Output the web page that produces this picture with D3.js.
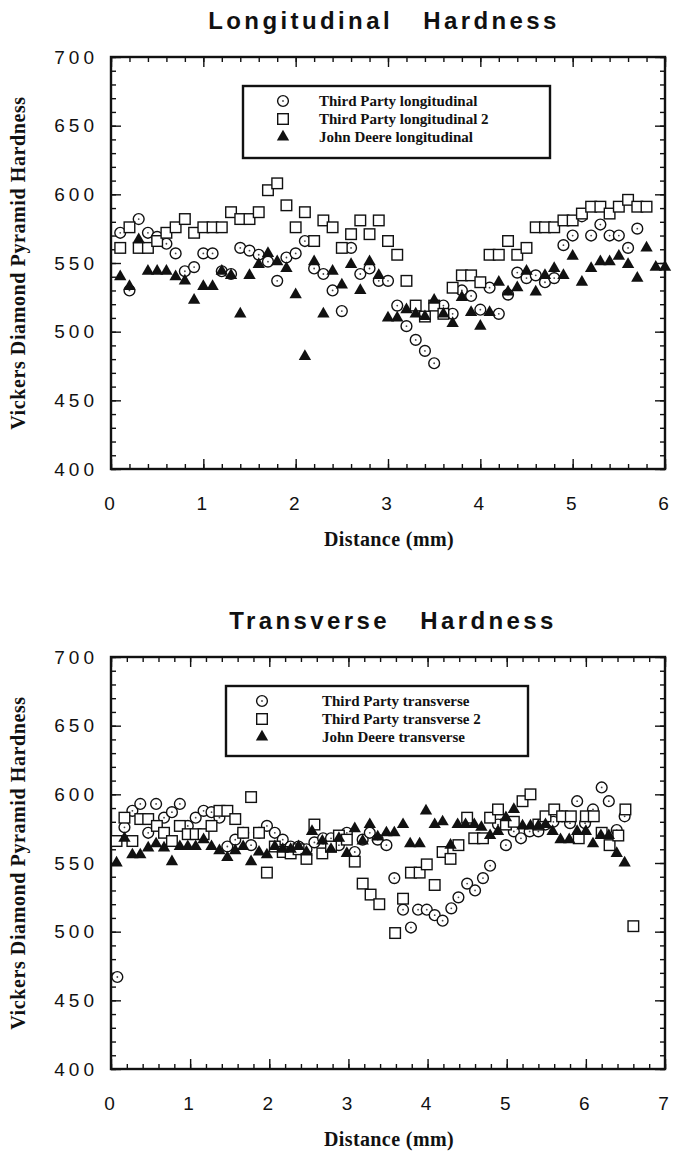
<!DOCTYPE html>
<html>
<head>
<meta charset="utf-8">
<script src="https://cdn.jsdelivr.net/npm/d3@7"></script>
<style>
  body { margin: 0; background: #fff; }
  svg { display: block; }
  .tick text { font-family: "Liberation Sans", Arial, sans-serif; font-size: 19px; letter-spacing: 4px; fill: #111; }
  .tick line { stroke: #111; stroke-width: 1.4; }
</style>
</head>
<body>
<svg width="673" height="1152"></svg>
<script>
// values, [distance mm, hardness]
var tpLong = [[0.1,572],[0.2,530],[0.3,582],[0.4,572],[0.5,569],[0.6,564],[0.7,557],[0.8,544],[0.9,547],[1.0,557],
  [1.1,557],[1.2,544],[1.3,542],[1.4,561],[1.5,559],[1.6,556],[1.7,551],[1.8,537],[1.9,554],[2.0,557],
  [2.1,566],[2.2,546],[2.3,542],[2.4,530],[2.5,515],[2.6,561],[2.7,542],[2.8,546],[2.9,537],[3.0,537],
  [3.1,519],[3.2,504],[3.3,494],[3.4,486],[3.5,477],[3.6,519],[3.7,513],[3.8,530],[3.9,526],[4.0,516],
  [4.1,532],[4.2,513],[4.3,527],[4.4,543],[4.5,539],[4.6,541],[4.7,536],[4.8,539],[4.9,563],[5.0,570],
  [5.1,584],[5.2,570],[5.3,578],[5.4,570],[5.5,570],[5.6,561],[5.7,575]];

var tpLong2 = [[0.1,561],[0.2,576],[0.3,561],[0.4,561],[0.5,566],[0.6,572],[0.7,576],[0.8,582],[0.9,572],[1.0,576],
  [1.1,576],[1.2,576],[1.3,587],[1.4,582],[1.5,582],[1.6,587],[1.7,603],[1.8,608],[1.9,592],[2.0,576],
  [2.1,587],[2.2,566],[2.3,581],[2.4,576],[2.5,561],[2.6,571],[2.7,581],[2.8,571],[2.9,581],[3.0,566],
  [3.1,556],[3.2,537],[3.3,519],[3.4,511],[3.5,519],[3.6,513],[3.7,532],[3.8,541],[3.9,541],[4.0,536],
  [4.1,556],[4.2,556],[4.3,566],[4.4,556],[4.5,561],[4.6,576],[4.7,576],[4.8,576],[4.9,581],[5.0,581],
  [5.1,586],[5.2,591],[5.3,591],[5.4,586],[5.5,591],[5.6,596],[5.7,591],[5.8,591]];

var jdLong = [[0.1,540],[0.2,533],[0.3,567],[0.4,544],[0.5,544],[0.6,544],[0.7,540],[0.8,537],[0.9,523],[1.0,533],
  [1.1,533],[1.2,544],[1.3,541],[1.4,513],[1.5,541],[1.6,549],[1.7,557],[1.8,551],[1.9,546],[2.0,527],
  [2.1,482],[2.2,551],[2.3,513],[2.4,544],[2.5,534],[2.6,549],[2.7,530],[2.8,551],[2.9,541],[3.0,510],
  [3.1,510],[3.2,516],[3.3,513],[3.4,511],[3.5,523],[3.6,513],[3.7,506],[3.8,525],[3.9,514],[4.0,504],
  [4.1,514],[4.2,536],[4.3,529],[4.4,532],[4.5,544],[4.6,529],[4.7,541],[4.8,546],[4.9,541],[5.0,555],
  [5.1,536],[5.2,546],[5.3,551],[5.4,551],[5.5,555],[5.6,549],[5.7,539],[5.8,561],[5.9,547],[6.0,547]];

var tpTrans = [[0.08,467],[0.17,576],[0.27,588],[0.37,593],[0.47,572],[0.57,593],[0.67,583],[0.77,587],[0.87,593],[0.97,577],
  [1.07,583],[1.17,588],[1.27,587],[1.37,583],[1.47,562],[1.57,567],[1.67,572],[1.77,563],[1.87,572],[1.97,577],
  [2.07,572],[2.17,567],[2.27,562],[2.37,562],[2.47,560],[2.57,565],[2.68,568],[2.78,568],[2.88,563],[2.98,572],
  [3.08,558],[3.18,567],[3.27,572],[3.37,567],[3.48,563],[3.58,539],[3.69,516],[3.79,503],[3.88,516],[3.99,516],
  [4.09,512],[4.19,508],[4.30,517],[4.39,525],[4.50,535],[4.60,530],[4.70,539],[4.79,548],[4.89,578],[4.99,563],
  [5.09,573],[5.18,568],[5.29,573],[5.40,573],[5.49,578],[5.59,580],[5.70,584],[5.80,579],[5.89,595],[5.99,579],
  [6.09,589],[6.20,605],[6.29,595],[6.39,574],[6.49,584]];

var tpTrans2 = [[0.07,566],[0.17,583],[0.27,566],[0.37,582],[0.47,582],[0.58,577],[0.67,572],[0.77,566],[0.87,577],[0.97,571],
  [1.07,571],[1.17,571],[1.27,577],[1.37,588],[1.47,588],[1.57,582],[1.67,572],[1.77,598],[1.87,572],[1.97,543],
  [2.07,562],[2.17,558],[2.27,557],[2.37,560],[2.47,553],[2.57,578],[2.67,557],[2.78,562],[2.88,570],[2.98,567],
  [3.08,551],[3.18,535],[3.28,527],[3.39,520],[3.59,499],[3.69,524],[3.79,543],[3.90,543],[3.99,549],[4.09,534],
  [4.19,558],[4.29,553],[4.39,563],[4.50,583],[4.59,568],[4.70,568],[4.79,583],[4.89,589],[4.99,578],[5.09,580],
  [5.20,595],[5.30,600],[5.40,578],[5.49,584],[5.60,589],[5.70,584],[5.81,584],[5.91,568],[6.00,584],[6.10,584],
  [6.20,572],[6.30,563],[6.41,570],[6.50,589],[6.60,504]];

var jdTrans = [[0.07,550],[0.17,568],[0.27,556],[0.37,556],[0.47,561],[0.57,564],[0.67,561],[0.77,551],[0.87,562],[0.97,562],
  [1.07,562],[1.17,567],[1.27,562],[1.37,559],[1.47,554],[1.57,559],[1.67,562],[1.77,551],[1.87,558],[1.97,556],
  [2.07,562],[2.17,560],[2.27,560],[2.37,562],[2.47,558],[2.54,573],[2.67,566],[2.78,560],[2.88,568],[2.98,557],
  [3.08,575],[3.18,566],[3.27,578],[3.37,569],[3.48,572],[3.58,572],[3.69,578],[3.78,564],[3.90,564],[3.98,588],
  [4.09,578],[4.19,580],[4.29,563],[4.38,578],[4.48,578],[4.59,578],[4.68,576],[4.79,570],[4.89,573],[4.99,583],
  [5.09,589],[5.20,577],[5.30,577],[5.40,577],[5.49,578],[5.58,573],[5.68,567],[5.79,567],[5.89,573],[6.00,573],
  [6.09,564],[6.19,570],[6.29,570],[6.39,557],[6.49,550]];

var longXTicks = [0, 1, 2, 3, 4, 5, 6];
var transXTicks = [0, 1, 2, 3, 4, 5, 6, 7];
var yTicks = [400, 450, 500, 550, 600, 650, 700];
var longNames = ["Third Party longitudinal", "Third Party longitudinal 2", "John Deere longitudinal"];
var transNames = ["Third Party transverse", "Third Party transverse 2", "John Deere transverse"];

var svg = d3.select("svg");
var ink = "#111";
var tri = d3.symbol().type(d3.symbolTriangle).size(66);

function marker(sel, kind) {
  if (kind == 0) {
    sel.append("circle").attr("r", 5.4).attr("fill", "#fff").attr("stroke", ink).attr("stroke-width", 1.4);
    sel.append("circle").attr("r", 0.9).attr("fill", "#444");
  } else if (kind == 1) {
    sel.append("rect").attr("x", -5.3).attr("y", -5.3).attr("width", 10.6).attr("height", 10.6)
      .attr("fill", "#fff").attr("stroke", ink).attr("stroke-width", 1.4);
  } else {
    sel.append("path").attr("d", tri).attr("fill", ink);
  }
}

function panel(cfg) {
  var w = cfg.right - cfg.left, h = cfg.bottom - cfg.top;
  var x = d3.scaleLinear().domain([0, d3.max(cfg.xTicks)]).range([0, w]);
  var y = d3.scaleLinear().domain([400, 700]).range([h, 0]);
  var xMinor = d3.range(0, d3.max(cfg.xTicks) + 0.01, 0.2);
  var yMinor = d3.range(400, 701, 10);

  var g = svg.append("g").attr("transform", "translate(" + cfg.left + "," + cfg.top + ")");

  // inward ticks on all four sides
  g.append("g").attr("transform", "translate(0," + h + ")")
    .call(d3.axisBottom(x).tickValues(xMinor).tickSize(-5).tickFormat(""));
  g.append("g").attr("transform", "translate(0," + h + ")")
    .call(d3.axisBottom(x).tickValues(cfg.xTicks).tickSize(-10).tickPadding(28).tickFormat(d3.format("d")));
  g.append("g").call(d3.axisTop(x).tickValues(xMinor).tickSize(-5).tickFormat(""));
  g.append("g").call(d3.axisTop(x).tickValues(cfg.xTicks).tickSize(-10).tickFormat(""));
  g.append("g").call(d3.axisLeft(y).tickValues(yMinor).tickSize(-5).tickFormat(""));
  g.append("g").call(d3.axisLeft(y).tickValues(yTicks).tickSize(-10).tickPadding(13));
  g.append("g").attr("transform", "translate(" + w + ",0)")
    .call(d3.axisRight(y).tickValues(yMinor).tickSize(-5).tickFormat(""));
  g.append("g").attr("transform", "translate(" + w + ",0)")
    .call(d3.axisRight(y).tickValues(yTicks).tickSize(-10).tickFormat(""));
  g.selectAll(".domain").remove();
  g.selectAll(".tick text").attr("fill", ink);

  g.append("rect").attr("width", w).attr("height", h)
    .attr("fill", "none").attr("stroke", ink).attr("stroke-width", 2.4);

  // legend box
  var lg = g.append("g").attr("transform", "translate(" + (cfg.legend[0] - cfg.left) + "," + (cfg.legend[1] - cfg.top) + ")");
  lg.append("rect").attr("width", cfg.legend[2]).attr("height", cfg.legend[3])
    .attr("fill", "#fff").attr("stroke", ink).attr("stroke-width", 2.4);
  cfg.names.forEach(function(n, i) {
    var row = lg.append("g").attr("transform", "translate(0," + (15 + i * 18) + ")");
    marker(row.append("g").attr("transform", "translate(" + cfg.symX + ",0)"), i);
    row.append("text").attr("x", cfg.textX).attr("y", 5)
      .attr("font-family", "'Liberation Serif', 'Times New Roman', serif")
      .attr("font-weight", "bold").attr("font-size", 15).attr("fill", ink)
      .text(n);
  });

  // points: circles, squares, then triangles on top
  cfg.series.forEach(function(s, i) {
    g.append("g").selectAll("g")
      .data(s)
      .enter().append("g")
        .attr("transform", function(d) { return "translate(" + x(d[0]) + "," + y(d[1]) + ")"; })
        .each(function() { marker(d3.select(this), i); });
  });

  svg.append("text")
    .attr("x", cfg.titleX).attr("y", cfg.top - 28)
    .attr("text-anchor", "middle").style("white-space", "pre")
    .attr("font-family", "'Liberation Sans', Arial, sans-serif").attr("font-weight", "bold")
    .attr("font-size", 24).attr("letter-spacing", 3.4).attr("fill", ink)
    .text(cfg.title);

  svg.append("text")
    .attr("x", 389).attr("y", cfg.bottom + 77)
    .attr("text-anchor", "middle")
    .attr("font-family", "'Liberation Serif', 'Times New Roman', serif").attr("font-weight", "bold")
    .attr("font-size", 20).attr("letter-spacing", 0.4).attr("fill", ink)
    .text("Distance (mm)");

  svg.append("text")
    .attr("transform", "translate(25," + (cfg.top + cfg.bottom) / 2 + ") rotate(-90)")
    .attr("text-anchor", "middle")
    .attr("font-family", "'Liberation Serif', 'Times New Roman', serif").attr("font-weight", "bold")
    .attr("font-size", 20).attr("letter-spacing", 0.6).attr("fill", ink)
    .text("Vickers Diamond Pyramid Hardness");
}

panel({
  left: 111, right: 665, top: 57, bottom: 469,
  xTicks: longXTicks, names: longNames,
  series: [tpLong, tpLong2, jdLong],
  legend: [243, 86, 307, 72], symX: 40, textX: 76,
  title: "Longitudinal   Hardness", titleX: 384
});

panel({
  left: 111, right: 665, top: 657, bottom: 1069,
  xTicks: transXTicks, names: transNames,
  series: [tpTrans, tpTrans2, jdTrans],
  legend: [226, 686, 302, 70], symX: 36, textX: 96,
  title: "Transverse   Hardness", titleX: 393
});
</script>
</body>
</html>
